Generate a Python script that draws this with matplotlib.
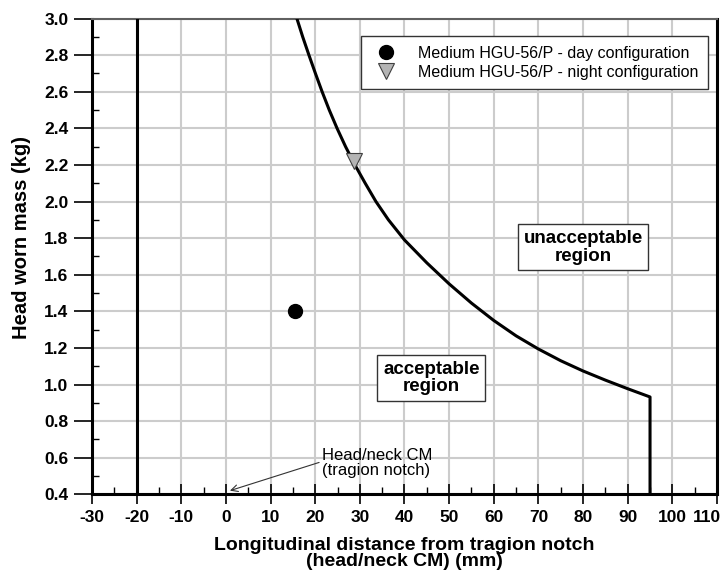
import matplotlib
matplotlib.use('Agg')
import matplotlib.pyplot as plt
import matplotlib.transforms as mtransforms
from matplotlib.ticker import MultipleLocator, FormatStrFormatter

plt.rcParams['font.family'] = ['Liberation Sans', 'DejaVu Sans']
plt.rcParams['axes.unicode_minus'] = False

# limit curve (mm, kg)
limit_x = [15.9, 17.2, 18.6, 20.05, 21.55, 23.15, 24.9, 26.8, 28.9, 31.2, 33.6, 36.4,
           40.0, 45.0, 50.0, 55.0, 60.0, 65.0, 70.0, 75.0, 80.0, 85.0, 90.0, 95.0, 95.0]
limit_y = [3.0, 2.9, 2.8, 2.7, 2.6, 2.5, 2.4, 2.3, 2.2, 2.1, 2.0, 1.9,
           1.79, 1.665, 1.55, 1.445, 1.35, 1.266, 1.194, 1.13, 1.074, 1.024, 0.977, 0.932, 0.4]
rear_x = [-20, -20]
rear_y = [0.4, 3.0]

day_x, day_y = [15.5], [1.4]
night_x, night_y = [28.8], [2.22]

x_ticks = list(range(-30, 111, 10))

fig = plt.figure(figsize=(7.23, 5.73), dpi=100)
ax = fig.add_axes([0.1272, 0.1373, 0.8645, 0.8304])

ax.plot(limit_x, limit_y, color='black', lw=2.2, zorder=3, solid_joinstyle='round')
ax.plot(rear_x, rear_y, color='black', lw=2.2, zorder=3)
ax.plot(day_x, day_y, 'o', color='black', ms=10, zorder=4,
        label='Medium HGU-56/P - day configuration')
ax.plot(night_x, night_y, 'v', color='#b4b4b4', mec='#404040', mew=0.8, ms=11, zorder=4,
        label='Medium HGU-56/P - night configuration')

ax.set_xlim(-30, 110)
ax.set_ylim(0.4, 3.0)
ax.set_xticks(x_ticks)
ax.set_xticklabels([str(t) for t in x_ticks])
ax.xaxis.set_minor_locator(MultipleLocator(5))
ax.yaxis.set_major_locator(MultipleLocator(0.2))
ax.yaxis.set_minor_locator(MultipleLocator(0.1))
ax.yaxis.set_major_formatter(FormatStrFormatter('%.1f'))
ax.grid(True, which='major', color='#cccccc', lw=1.5, zorder=0)
ax.set_axisbelow(True)

ax.tick_params(axis='x', which='major', direction='inout', length=14, width=1.2, labelsize=12.5, pad=4)
ax.tick_params(axis='x', which='minor', direction='in', length=5, width=1.0)
ax.tick_params(axis='y', which='major', direction='out', length=13, width=1.2, labelsize=12.5, pad=4)
ax.tick_params(axis='y', which='minor', direction='in', length=5, width=1.0)
for lab in ax.get_xticklabels() + ax.get_yticklabels():
    lab.set_fontweight('bold')
# the 110 label sits flush with the figure edge
for lab in ax.get_xticklabels():
    if lab.get_text() == '110':
        lab.set_horizontalalignment('right')
        lab.set_transform(lab.get_transform() +
                          mtransforms.ScaledTranslation(4/100, 0, fig.dpi_scale_trans))

for side in ['left', 'bottom', 'right']:
    ax.spines[side].set_linewidth(2.2)
ax.spines['top'].set_linewidth(1.5)
ax.spines['top'].set_color('#606060')

ax.set_xlabel('Longitudinal distance from tragion notch\n(head/neck CM) (mm)',
              fontsize=14, fontweight='bold', labelpad=9, linespacing=0.88)
ax.set_ylabel('Head worn mass (kg)', fontsize=14.5, fontweight='bold')
ax.yaxis.set_label_coords(-0.098, 0.539)

box = dict(boxstyle='square,pad=0.3', fc='white', ec='#333333', lw=1)
ax.text(80, 1.75, 'unacceptable\nregion', ha='center', va='center', fontsize=13.5,
        fontweight='bold', bbox=box, linespacing=1.05, zorder=5)
ax.text(46, 1.035, 'acceptable\nregion', ha='center', va='center', fontsize=13.5,
        fontweight='bold', bbox=box, linespacing=1.05, zorder=5)

ax.annotate('Head/neck CM\n(tragion notch)', xy=(0.9, 0.42), xytext=(21.5, 0.571),
            fontsize=12, ha='left', va='center', linespacing=0.95,
            arrowprops=dict(arrowstyle='->', color='#333333', lw=0.8,
                            shrinkA=0, shrinkB=0, relpos=(0, 0.55)),
            zorder=5)

leg = ax.legend(loc='upper right', bbox_to_anchor=(0.9856, 0.963), borderaxespad=0,
                fontsize=11.5, frameon=True, fancybox=False, edgecolor='#333333',
                framealpha=1, borderpad=0.6, handletextpad=1.0, labelspacing=0.25,
                handlelength=2.0)
leg.get_frame().set_linewidth(1)

fig.savefig('out.png', dpi=100)
